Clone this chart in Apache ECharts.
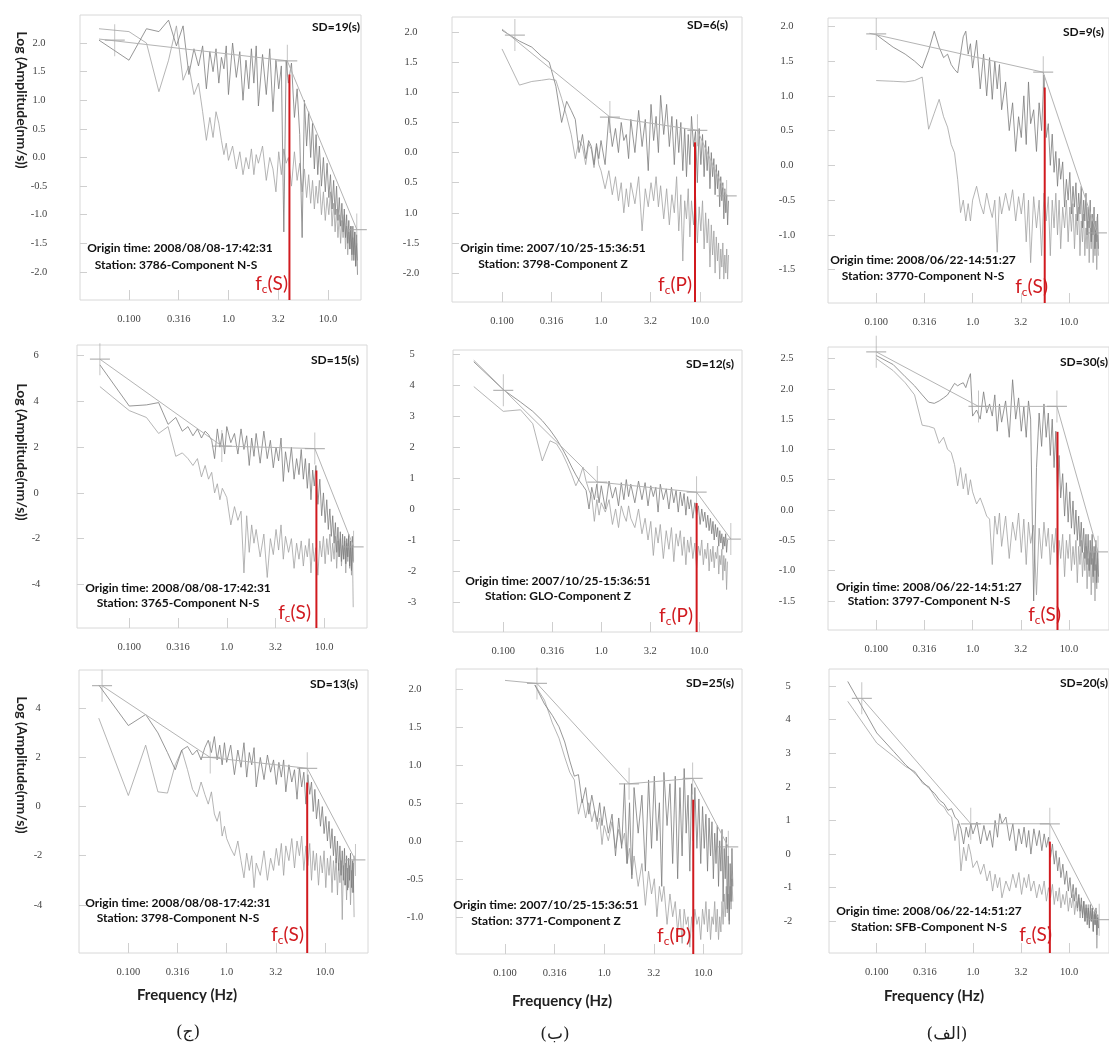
<!DOCTYPE html>
<html>
<head>
<meta charset="utf-8">
<script src="https://cdn.jsdelivr.net/npm/echarts@6/dist/echarts.min.js"></script>
<style>
  html, body { margin: 0; padding: 0; background: #fff; }
  #chart { width: 1109px; height: 1047px; }
</style>
</head>
<body>
<div id="chart"></div>
<script>
// frequency grid (Hz) shared by all spectra
var freq = [0.05, 0.1, 0.15, 0.2, 0.25, 0.3, 0.35, 0.4, 0.45, 0.5,
    0.55, 0.6, 0.65, 0.7, 0.75, 0.8, 0.85, 0.9, 0.95, 1.0,
    1.1, 1.2, 1.3, 1.4, 1.5, 1.6, 1.7, 1.8, 1.9, 2.0,
    2.2, 2.4, 2.6, 2.8, 3.0, 3.2, 3.4, 3.6, 3.8, 4.0,
    4.3, 4.6, 4.9, 5.2, 5.5, 5.8, 6.1, 6.4, 6.7, 7.0,
    7.3, 7.6, 7.9, 8.2, 8.6, 9.0, 9.4, 9.8, 10.2, 10.6,
    11.0, 11.4, 11.8, 12.2, 12.6, 13.0, 13.4, 13.8, 14.2, 14.6,
    15.0, 15.4, 15.8, 16.2, 16.6, 17.0, 17.4, 17.8, 18.2, 18.6,
    19.0, 19.4, 19.8, 20.2];

var xTickVals = [-1, -0.5, 0, 0.5, 1];
var xTickLabels = ['0.100', '0.316', '1.0', '3.2', '10.0'];

var sdTexts = ['SD=19(s)', 'SD=6(s)', 'SD=9(s)', 'SD=15(s)', 'SD=12(s)', 'SD=30(s)', 'SD=13(s)', 'SD=25(s)', 'SD=20(s)'];
var originTexts = ['Origin time: 2008/08/08-17:42:31', 'Origin time: 2007/10/25-15:36:51', 'Origin time: 2008/06/22-14:51:27',
    'Origin time: 2008/08/08-17:42:31', 'Origin time: 2007/10/25-15:36:51', 'Origin time: 2008/06/22-14:51:27',
    'Origin time: 2008/08/08-17:42:31', 'Origin time: 2007/10/25-15:36:51', 'Origin time: 2008/06/22-14:51:27'];
var stationTexts = ['Station: 3786-Component N-S', 'Station: 3798-Component Z', 'Station: 3770-Component N-S',
    'Station: 3765-Component N-S', 'Station: GLO-Component Z', 'Station: 3797-Component N-S',
    'Station: 3798-Component N-S', 'Station: 3771-Component Z', 'Station: SFB-Component N-S'];
var phases = ['S', 'P', 'S', 'S', 'P', 'S', 'S', 'P', 'S'];
var captions = ['(ج)', '(ب)', '(الف)'];

// ---- row 1, col 1 ----
var sig_r1c1 = [2.05, 1.7, 2.25, 2.2, 2.4, 1.95, 2.3, 1.45, 1.9, 1.6,
    1.95, 1.2, 1.85, 1.5, 1.9, 1.3, 1.75, 1.55, 1.95, 1.1,
    2.0, 1.4, 1.85, 1.0, 1.7, 1.2, 1.9, 1.3, 1.95, 0.9,
    1.8, 1.1, 1.9, 0.8, 1.7, 1.2, 1.6, -1.3, 1.7, 1.3,
    1.65, 0.7, 1.2, 0.4, -1.4, 1.0, 0.2, 0.8, 0.0, 0.6,
    -0.2, 0.4, -0.3, 0.2, -0.5, 0.0, -0.6, -0.1, -0.7, -0.3,
    -0.9, -0.4, -1.0, -0.5, -1.1, -0.7, -1.2, -0.8, -1.3, -0.9,
    -1.4, -1.0, -1.5, -1.1, -1.6, -1.2, -1.7, -1.2, -1.8, -1.3,
    -1.9, -1.35, -2.05, null];
var noise_r1c1 = [2.25, 2.2, 2.0, 1.15, 1.7, 2.3, 1.35, 1.6, 1.1, 1.3,
    0.8, 0.3, 0.7, 0.35, 0.8, 0.6, 0.3, 0.05, 0.25, -0.05,
    0.2, -0.2, 0.1, -0.3, 0.0, -0.2, 0.15, -0.3, 0.05, -0.1,
    0.2, -0.4, 0.0, -0.2, -0.6, 0.1, -0.3, 0.15, -0.1, 0.0,
    -0.5, 0.1, -0.4, -0.1, -0.6, -0.2, -0.7, -0.3, -0.8, -0.4,
    -0.9, -0.5, -0.8, -0.4, -1.0, -0.6, -1.1, -0.7, -1.0, -0.6,
    -1.2, -0.8, -1.3, -0.9, -1.4, -1.0, -1.5, -1.1, -1.4, -1.0,
    -1.6, -1.2, -1.7, -1.3, -1.6, -1.2, -1.8, -1.4, -1.7, -1.3,
    -1.9, -1.5, -1.8, null];
var fit_r1c1 = [[0.05, 2.07], [3.9, 1.69], [19.5, -1.26]];
var cross_r1c1 = [[0.072, 2.05], [3.9, 1.69], [19.5, -1.26]];
var fc_r1c1 = [4.1, 1.45];
var yTicks_r1c1 = [2, 1.5, 1, 0.5, 0, -0.5, -1, -1.5, -2];
var yLabels_r1c1 = ['2.0', '1.5', '1.0', '0.5', '0.0', '-0.5', '-1.0', '-1.5', '-2.0'];

// ---- row 1, col 2 ----
var sig_r1c2 = [null, 2.03, 1.85, 1.75, 1.6, 1.5, 1.1, 0.5, 0.85, 0.7,
    0.55, 0.0, 0.3, -0.1, 0.2, 0.1, -0.2, 0.15, -0.1, 0.2,
    -0.2, 0.6, 0.1, 0.4, 0.0, 0.5, 0.2, 0.3, -0.1, 0.55,
    0.0, 0.7, 0.1, 0.55, -0.3, 0.8, 0.2, 0.6, 0.0, 0.95,
    0.3, 0.8, 0.1, 0.6, -0.2, 0.55, 0.0, 0.5, -0.3, 0.4,
    -0.4, 0.3, -0.2, 0.6, 0.1, 0.35, -0.5, 0.4, -0.2, 0.3,
    -0.4, 0.2, -0.3, 0.1, -0.6, 0.0, -0.4, -0.1, -0.7, -0.2,
    -0.6, -0.3, -0.9, -0.4, -0.8, -0.5, -1.1, -0.6, -1.0, -0.7,
    -1.2, -0.8, null, null];
var noise_r1c2 = [null, 1.72, 1.12, 1.18, 1.2, 1.22, 1.2, 0.9, 0.6, 0.3,
    -0.1, 0.2, 0.1, -0.2, 0.15, 0.05, -0.25, 0.1, -0.2, -0.3,
    -0.6, -0.3, -0.7, -0.4, -0.8, -0.5, -1.0, -0.6, -0.9, -0.5,
    -0.85, -0.4, -1.3, -0.6, -0.9, -0.5, -0.8, -0.4, -0.9, -0.55,
    -1.1, -0.6, -1.2, -0.7, -1.0, -0.4, -1.3, -0.7, -1.8, -0.8,
    -1.1, -0.6, -1.4, -0.8, -1.2, -0.7, -1.5, -0.9, -1.3, -0.8,
    -1.6, -1.0, -1.5, -1.1, -1.9, -1.2, -1.7, -1.3, -2.0, -1.4,
    -1.8, -1.5, -2.1, -1.6, -1.9, -1.5, -2.1, -1.7, -2.0, -1.6,
    -2.1, -1.7, null, null];
var fit_r1c2 = [[0.1, 2.05], [1.23, 0.59], [9.4, 0.37], [18.6, -0.72]];
var cross_r1c2 = [[0.135, 1.95], [1.23, 0.59], [9.4, 0.37], [18.6, -0.72]];
var fc_r1c2 = [8.9, 0.17];
var yTicks_r1c2 = [2, 1.5, 1, 0.5, 0, -0.5, -1, -1.5, -2];
var yLabels_r1c2 = ['2.0', '1.5', '1.0', '0.5', '0.0', '0.5', '1.0', '-1.5', '-2.0'];

// ---- row 1, col 3 ----
var sig_r1c3 = [null, 1.88, 1.7, 1.6, 1.5, 1.4, 1.65, 1.93, 1.7, 1.55,
    1.6, 1.45, 1.38, 1.33, 1.6, 1.85, 1.93, 1.6, 1.75, 1.4,
    1.8, 1.1, 1.6, 1.0, 1.55, 0.95, 1.5, 1.1, 1.45, 0.8,
    1.2, 0.5, 0.9, 0.2, 0.7, 0.4, 1.0, 0.3, 1.2, 0.6,
    0.8, 0.2, 0.9, 0.5, 1.3, 0.4, 0.6, 0.0, 0.45, -0.1,
    0.2, -0.3, 0.1, -0.2, 0.05, -0.6, -0.2, -0.5, -0.1, -0.7,
    -0.3, -0.6, -0.25, -0.8, -0.4, -0.7, -0.3, -0.9, -0.5, -0.8,
    -0.4, -1.0, -0.6, -0.9, -0.5, -1.1, -0.7, -1.0, -0.6, -1.2,
    -0.8, -1.1, -0.7, -1.2];
var noise_r1c3 = [null, 1.22, 1.21, 1.2, 1.22, 1.27, 0.52, 0.75, 0.95, 0.7,
    0.55, 0.3, 0.18, -0.2, -0.68, -0.5, -0.8, -0.55, -0.8, -0.5,
    -0.3, -0.55, -0.7, -0.4, -0.6, -0.75, -0.5, -1.25, -0.45, -0.7,
    -0.4, -0.65, -0.35, -0.8, -0.45, -0.7, -0.4, -1.1, -0.5, -1.4,
    -0.45, -0.9, -0.5, -1.3, -0.4, -0.8, -0.45, -1.3, -0.5, -0.9,
    -0.4, -1.0, -0.5, -1.2, -0.6, -0.9, -0.5, -1.1, -0.6, -0.95,
    -0.55, -1.2, -0.7, -1.0, -0.6, -1.3, -0.8, -1.1, -0.7, -1.3,
    -0.9, -1.2, -0.8, -1.4, -0.9, -1.2, -0.8, -1.4, -1.0, -1.3,
    -0.9, -1.5, -1.0, -1.3];
var fit_r1c3 = [[0.085, 1.9], [5.4, 1.34], [19.5, -0.97]];
var cross_r1c3 = [[0.1, 1.89], [5.4, 1.34], [19.5, -0.97]];
var fc_r1c3 = [5.6, 1.12];
var yTicks_r1c3 = [2, 1.5, 1, 0.5, 0, -0.5, -1, -1.5];
var yLabels_r1c3 = ['2.0', '1.5', '1.0', '0.5', '0.0', '-0.5', '-1.0', '-1.5'];

// ---- row 2, col 1 ----
var sig_r2c1 = [5.6, 3.8, 3.85, 3.95, 3.0, 3.3, 2.7, 2.9, 2.5, 2.8,
    2.4, 2.7, 2.55, 2.3, 1.5, 2.8, 2.0, 2.6, 1.7, 2.9,
    2.2, 2.6, 1.7, 2.8, 1.9, 2.5, 1.2, 2.4, 1.6, 2.6,
    1.3, 2.7, 1.5, 2.3, 1.1, 2.0, 1.4, 2.4, 0.5, 1.8,
    0.9, 2.0, 0.6, 1.5, 0.8, 1.9, 0.6, 1.5, 0.2, 1.3,
    -0.3, 1.0, 0.3, 1.2, -0.5, 0.6, -1.0, 0.0, -1.3, -0.3,
    -1.6, -0.7, -1.9, -1.0, -2.2, -1.3, -2.6, -1.5, -2.8, -1.7,
    -3.0, -1.8, -2.9, -1.9, -3.1, -2.0, -2.8, -1.8, -3.2, -2.1,
    -3.4, -1.9, -3.0, null];
var noise_r2c1 = [4.65, 3.6, 3.3, 2.6, 2.9, 1.6, 1.75, 1.5, 1.2, 1.5,
    0.7, 1.2, 0.6, 0.9, 0.0, 0.4, -0.3, 0.2, 0.0, -0.2,
    -1.4, -0.6, -1.2, -0.8, -3.5, -1.0, -2.6, -1.4, -2.2, -1.6,
    -2.8, -1.8, -3.7, -2.0, -2.7, -1.6, -2.5, -1.4, -2.9, -1.9,
    -2.6, -2.0, -3.3, -2.2, -2.9, -2.1, -3.2, -2.3, -2.8, -2.0,
    -3.5, -2.2, -3.0, -2.4, -3.6, -2.1, -2.8, -1.9, -3.1, -2.0,
    -2.7, -1.8, -3.0, -2.2, -2.9, -1.9, -3.3, -2.1, -2.8, -2.0,
    -3.2, -2.3, -2.9, -2.1, -3.5, -2.2, -3.0, -1.9, -3.3, -2.4,
    -3.6, -2.2, -5.0, null];
var fit_r2c1 = [[0.05, 5.85], [0.89, 2.05], [8.0, 1.94], [20.0, -2.36]];
var cross_r2c1 = [[0.05, 5.85], [0.89, 2.05], [8.0, 1.94], [20.0, -2.36]];
var fc_r2c1 = [8.3, 0.98];
var yTicks_r2c1 = [6, 4, 2, 0, -2, -4];
var yLabels_r2c1 = ['6', '4', '2', '0', '-2', '-4'];

// ---- row 2, col 2 ----
var sig_r2c2 = [4.75, 3.85, 3.45, 3.15, 2.85, 2.55, 2.25, 1.95, 1.65, 1.35,
    1.1, 0.9, 0.75, 0.6, 0.0, 0.7, 0.3, 0.8, 0.2, 0.75,
    0.0, 0.9, 0.35, 0.7, 0.1, 0.85, 0.3, 0.95, 0.4, 0.8,
    0.2, 0.9, 0.3, 0.85, 0.1, 0.75, 0.4, 0.7, -0.1, 0.8,
    0.3, 0.65, 0.0, 0.7, 0.2, 0.6, -0.1, 0.55, 0.1, 0.5,
    -0.2, 0.4, 0.0, 0.3, -0.3, 0.2, -0.2, 0.1, -0.5, 0.0,
    -0.4, -0.1, -0.6, -0.2, -0.7, -0.3, -0.8, -0.4, -1.0, -0.5,
    -0.9, -0.6, -1.2, -0.7, -1.1, -0.8, -1.3, -0.9, -1.2, -0.8,
    -1.4, -1.0, null, null];
var noise_r2c2 = [3.95, 3.15, 3.2, 2.75, 1.55, 2.2, 2.1, 1.8, 1.45, 1.1,
    0.75, 1.0, 1.35, 0.9, 0.6, 0.4, -0.4, 0.3, -0.2, 0.2,
    -0.1, 0.3, -0.5, 0.0, -0.6, 0.1, -0.2, -0.4, 0.1, -0.3,
    -0.6, 0.0, -0.8, -0.3, -1.0, -0.4, -1.5, -0.6, -1.1, -0.5,
    -1.6, -0.7, -1.3, -0.6, -1.7, -0.8, -1.2, -0.7, -1.5, -0.9,
    -1.8, -1.0, -1.4, -0.9, -1.6, -1.1, -1.9, -1.2, -1.5, -1.0,
    -1.8, -1.3, -1.6, -1.1, -2.0, -1.3, -1.7, -1.2, -1.9, -1.4,
    -1.6, -1.2, -2.1, -1.5, -1.8, -1.3, -2.3, -1.5, -2.0, -1.6,
    -2.6, -1.7, null, null];
var fit_r2c2 = [[0.05, 4.8], [0.91, 0.87], [9.4, 0.54], [21, -0.97]];
var cross_r2c2 = [[0.1, 3.83], [0.91, 0.87], [9.4, 0.54], [21, -0.97]];
var fc_r2c2 = [9.4, 0.19];
var yTicks_r2c2 = [5, 4, 3, 2, 1, 0, -1, -2, -3];
var yLabels_r2c2 = ['5', '4', '3', '2', '1', '0', '-1', '-2', '-3'];

// ---- row 2, col 3 ----
var sig_r2c3 = [null, 2.55, 2.4, 2.2, 2.05, 1.9, 1.78, 1.76, 1.8, 1.85,
    1.9, 2.0, 2.09, 2.05, 2.08, 2.1, 2.02, 2.15, 2.25, 1.55,
    1.65, 1.5, 1.95, 1.6, 1.75, 1.55, 1.9, 1.3, 1.75, 1.45,
    1.8, 1.2, 2.15, 1.5, 1.85, 1.3, 1.7, 1.2, 1.8, 1.5,
    -1.5, 0.7, 1.6, 1.05, 1.75, 1.2, 1.6, 0.9, 1.5, 0.7,
    1.3, 0.3, 0.9, 0.2, 0.6, -0.1, 0.45, -0.2, 0.3, -0.3,
    0.15, -0.4, 0.0, -0.5, -0.1, -0.6, -0.2, -0.7, -0.3, -0.8,
    -0.4, -0.9, -0.4, -1.0, -0.5, -0.9, -0.4, -1.1, -0.6, -1.0,
    -0.5, -1.2, -0.7, -1.1];
var noise_r2c3 = [null, 2.5, 2.3, 2.1, 1.9, 1.4, 1.38, 1.35, 1.1, 1.2,
    1.0, 0.95, 0.75, 0.4, 0.7, 0.35, 0.6, 0.25, 0.5, 0.3,
    0.1, 0.2, 0.05, -0.1, -0.15, -0.9, -0.1, -0.4, -0.05, -0.6,
    -0.1, -0.8, -0.2, -0.5, -0.05, -0.7, -0.15, -0.9, -0.2, -0.55,
    -0.25, -1.4, -0.3, -0.8, -0.2, -0.6, -0.3, -0.9, -0.4, -0.7,
    -0.3, -1.0, -0.5, -0.8, -0.4, -1.1, -0.5, -0.8, -0.4, -1.0,
    -0.6, -0.9, -0.5, -1.2, -0.6, -0.9, -0.5, -1.1, -0.7, -1.0,
    -0.6, -1.3, -0.8, -1.1, -0.7, -1.4, -0.8, -1.2, -0.7, -1.5,
    -0.9, -1.3, -0.8, -1.2];
var fit_r2c3 = [[0.1, 2.61], [1.15, 1.71], [7.5, 1.71], [20, -0.69]];
var cross_r2c3 = [[0.1, 2.61], [1.15, 1.71], [7.5, 1.71], [20, -0.69]];
var fc_r2c3 = [7.6, 1.29];
var yTicks_r2c3 = [2.5, 2, 1.5, 1, 0.5, 0, -0.5, -1, -1.5];
var yLabels_r2c3 = ['2.5', '2.0', '1.5', '1.0', '0.5', '0.0', '-0.5', '-1.0', '-1.5'];

// ---- row 3, col 1 ----
var sig_r3c1 = [4.95, 3.3, 3.75, 3.0, 2.2, 1.5, 2.3, 2.45, 2.1, 2.3,
    1.9, 2.4, 2.7, 2.2, 2.85, 1.9, 2.5, 1.7, 2.6, 1.8,
    2.5, 1.3, 2.3, 1.6, 2.6, 1.2, 2.2, 1.7, 2.4, 0.8,
    2.0, 1.1, 2.1, 1.4, 1.9, 0.9, 1.8, 1.2, 1.9, 0.6,
    1.7, 1.0, 1.5, 0.3, 1.6, 0.8, 1.4, 0.1, 1.3, 0.5,
    1.0, -0.2, 0.7, -0.5, 0.3, -0.8, 0.0, -1.1, -0.4, -1.4,
    -0.6, -1.7, -0.9, -2.0, -1.2, -2.3, -1.4, -2.6, -1.6, -2.8,
    -1.8, -3.0, -1.7, -3.2, -2.0, -3.4, -2.1, -3.0, -1.9, -3.3,
    -2.2, -3.5, -2.0, null];
var noise_r3c1 = [3.6, 0.45, 2.5, 0.6, 0.55, 1.7, 2.3, 1.5, 0.7, 0.4,
    1.0, 0.5, 0.1, 0.6, -0.3, -0.6, -0.2, -1.2, -0.8, -1.3,
    -1.7, -2.0, -1.4, -2.2, -2.9, -1.9, -2.6, -2.0, -3.3, -2.3,
    -2.8, -1.8, -3.0, -2.1, -2.6, -1.7, -2.4, -1.5, -2.8, -1.6,
    -2.2, -1.3, -2.5, -1.4, -2.0, -1.2, -2.6, -1.6, -2.4, -1.5,
    -3.0, -1.8, -2.6, -1.9, -3.2, -2.0, -2.7, -1.8, -3.3, -2.1,
    -2.8, -2.0, -3.5, -2.2, -3.0, -2.1, -3.6, -2.3, -3.1, -2.2,
    -4.6, -2.4, -3.2, -2.3, -3.8, -2.5, -3.3, -2.4, -4.0, -2.6,
    -3.5, -2.3, -4.5, null];
var fit_r3c1 = [[0.054, 4.92], [0.68, 2.0], [6.6, 1.56], [20.4, -2.17]];
var cross_r3c1 = [[0.054, 4.92], [0.68, 2.0], [6.6, 1.56], [20.4, -2.17]];
var fc_r3c1 = [6.6, 0.98];
var yTicks_r3c1 = [4, 2, 0, -2, -4];
var yLabels_r3c1 = ['4', '2', '0', '-2', '-4'];

// ---- row 3, col 2 ----
var sig_r3c2 = [null, null, null, 2.05, 1.8, 1.65, 1.5, 1.3, 1.05, 0.85,
    0.87, 0.5, 0.7, 0.35, 0.6, 0.4, 0.25, 0.5, 0.2, 0.45,
    0.1, 0.35, -0.2, 0.3, -0.1, 0.75, -0.3, 0.5, -0.5, 0.7,
    0.1, 0.6, -0.4, 0.8, -0.1, 0.85, 0.0, 0.5, -0.6, 0.9,
    0.2, 0.75, -0.3, 0.85, -0.5, 0.7, -0.2, 0.95, 0.1, 0.6,
    -0.4, 0.75, 0.0, 0.7, -0.1, 0.55, -0.3, 0.45, -0.1, 0.35,
    -0.4, 0.3, -0.2, 0.25, -0.5, 0.1, -0.3, 0.2, -0.6, 0.0,
    -0.4, 0.15, -0.8, -0.1, -0.5, 0.05, -0.9, -0.2, -1.1, -0.3,
    -0.8, -0.1, -0.6, null];
var noise_r3c2 = [null, null, null, 2.05, 1.85, 1.55, 1.35, 1.1, 0.9, 0.8,
    0.35, 0.55, 0.3, 0.5, 0.25, 0.4, 0.15, 0.3, -0.05, 0.2,
    0.0, 0.25, -0.1, 0.15, -0.05, 0.1, -0.3, -0.1, -0.45, -0.2,
    -0.6, -0.3, -0.85, -0.4, -0.7, -0.5, -1.0, -0.6, -0.8, -0.6,
    -1.1, -0.7, -1.0, -0.8, -1.2, -0.9, -1.35, -0.9, -1.1, -1.0,
    -1.4, -1.0, -1.2, -0.9, -1.1, -1.0, -1.3, -0.9, -1.1, -0.8,
    -1.2, -0.9, -1.3, -1.0, -1.1, -0.8, -1.2, -0.9, -1.3, -1.0,
    -1.2, -0.8, -1.1, -0.7, -1.0, -0.6, -0.95, -0.7, -1.05, -0.6,
    -0.9, -0.5, -0.8, null];
var fit_r3c2 = [[0.1, 2.11], [0.21, 2.07], [1.78, 0.75], [7.8, 0.82], [17.8, -0.08]];
var cross_r3c2 = [[0.21, 2.07], [1.78, 0.75], [7.8, 0.82], [17.8, -0.08]];
var fc_r3c2 = [7.9, 0.54];
var yTicks_r3c2 = [2, 1.5, 1, 0.5, 0, -0.5, -1];
var yLabels_r3c2 = ['2.0', '1.5', '1.0', '0.5', '0.0', '-0.5', '-1.0'];

// ---- row 3, col 3 ----
var sig_r3c3 = [5.13, 3.6, 3.05, 2.65, 2.4, 2.15, 1.95, 1.8, 1.6, 1.5,
    1.3, 1.35, 1.1, 1.0, 0.75, 0.3, 0.8, 0.5, 0.9, 0.6,
    0.95, 0.3, 0.85, 0.4, 0.7, 0.2, 1.0, 0.5, 1.2, 0.9,
    1.1, 0.4, 0.9, 0.1, 0.75, 0.3, 0.8, 0.2, 0.7, 0.0,
    0.75, 0.25, 0.7, 0.1, 0.6, 0.2, 0.5, -0.1, 0.3, -0.3,
    0.1, -0.5, -0.1, -0.7, -0.3, -0.9, -0.5, -1.1, -0.7, -1.3,
    -0.9, -1.4, -1.0, -1.6, -1.2, -1.7, -1.3, -1.9, -1.4, -2.0,
    -1.5, -2.1, -1.6, -2.2, -1.5, -2.0, -1.6, -2.3, -1.7, -2.1,
    -1.6, -2.4, -1.8, -2.2];
var noise_r3c3 = [4.54, 3.3, 2.9, 2.6, 2.45, 2.1, 2.0, 1.7, 1.5, 1.4,
    1.2, 1.1, 0.4, 0.9, -0.5, 0.2, -0.2, 0.3, 0.0, -0.4,
    -0.2, -0.6, -0.3, -0.8, -0.5, -1.1, -0.6, -1.0, -0.7, -1.3,
    -0.8, -1.1, -0.6, -1.0, -0.55, -1.2, -0.7, -1.0, -0.6, -1.1,
    -0.8, -1.3, -0.9, -1.2, -0.8, -1.4, -1.0, -1.3, -0.9, -1.5,
    -1.1, -1.4, -1.0, -1.6, -1.2, -1.5, -1.1, -1.7, -1.3, -1.6,
    -1.2, -1.8, -1.4, -1.7, -1.3, -1.9, -1.5, -1.8, -1.4, -2.0,
    -1.6, -1.9, -1.5, -2.1, -1.7, -2.0, -1.6, -2.3, -1.8, -2.1,
    -1.7, -2.8, -1.9, -2.2];
var fit_r3c3 = [[0.07, 4.63], [0.95, 0.9], [6.3, 0.9], [20.5, -1.95]];
var cross_r3c3 = [[0.07, 4.63], [0.95, 0.9], [6.3, 0.9], [20.5, -1.95]];
var fc_r3c3 = [6.3, 0.37];
var yTicks_r3c3 = [5, 4, 3, 2, 1, 0, -1, -2];
var yLabels_r3c3 = ['5', '4', '3', '2', '1', '0', '-1', '-2'];

// panel layout: box = [left, top, right, bottom] in px, x range in log10(Hz)
var panels = [
    {sig: sig_r1c1, noise: noise_r1c1, fit: fit_r1c1, cross: cross_r1c1, fc: fc_r1c1, yt: yTicks_r1c1, yl: yLabels_r1c1,
        box: [80, 15, 361, 300], x: [-1.492, 1.332], y: [-2.49, 2.49], sd: [360, 27], org: [180, 248], sta: [176, 265], fcl: [288, 284]},
    {sig: sig_r1c2, noise: noise_r1c2, fit: fit_r1c2, cross: cross_r1c2, fc: fc_r1c2, yt: yTicks_r1c2, yl: yLabels_r1c2,
        box: [452, 17, 742, 302], x: [-1.505, 1.424], y: [-2.48, 2.25], sd: [728, 25], org: [553, 248], sta: [553, 264], fcl: [692, 285]},
    {sig: sig_r1c3, noise: noise_r1c3, fit: fit_r1c3, cross: cross_r1c3, fc: fc_r1c3, yt: yTicks_r1c3, yl: yLabels_r1c3,
        box: [828, 18, 1118, 303], x: [-1.5, 1.415], y: [-1.98, 2.12], sd: [1104, 32], org: [923, 260], sta: [923, 276], fcl: [1048, 287]},
    {sig: sig_r2c1, noise: noise_r2c1, fit: fit_r2c1, cross: cross_r2c1, fc: fc_r2c1, yt: yTicks_r2c1, yl: yLabels_r2c1,
        box: [77, 345, 367, 628], x: [-1.536, 1.438], y: [-5.91, 6.47], sd: [359, 360], org: [178, 588], sta: [178, 603], fcl: [311, 613]},
    {sig: sig_r2c2, noise: noise_r2c2, fit: fit_r2c2, cross: cross_r2c2, fc: fc_r2c2, yt: yTicks_r2c2, yl: yLabels_r2c2,
        box: [453, 350, 742, 632], x: [-1.513, 1.436], y: [-3.97, 5.13], sd: [734, 364], org: [558, 581], sta: [558, 596], fcl: [693, 616]},
    {sig: sig_r2c3, noise: noise_r2c3, fit: fit_r2c3, cross: cross_r2c3, fc: fc_r2c3, yt: yTicks_r2c3, yl: yLabels_r2c3,
        box: [828, 347, 1118, 630], x: [-1.5, 1.415], y: [-1.98, 2.69], sd: [1108, 362], org: [929, 587], sta: [929, 601], fcl: [1061, 615]},
    {sig: sig_r3c1, noise: noise_r3c1, fit: fit_r3c1, cross: cross_r3c1, fc: fc_r3c1, yt: yTicks_r3c1, yl: yLabels_r3c1,
        box: [79, 670, 368, 953], x: [-1.502, 1.438], y: [-5.96, 5.56], sd: [358, 684], org: [178, 903], sta: [178, 918], fcl: [304, 935]},
    {sig: sig_r3c2, noise: noise_r3c2, fit: fit_r3c2, cross: cross_r3c2, fc: fc_r3c2, yt: yTicks_r3c2, yl: yLabels_r3c2,
        box: [456, 669, 742, 954], x: [-1.494, 1.389], y: [-1.49, 2.26], sd: [734, 683], org: [546, 905], sta: [546, 921], fcl: [691, 936]},
    {sig: sig_r3c3, noise: noise_r3c3, fit: fit_r3c3, cross: cross_r3c3, fc: fc_r3c3, yt: yTicks_r3c3, yl: yLabels_r3c3,
        box: [829, 669, 1118, 953], x: [-1.496, 1.414], y: [-2.94, 5.5], sd: [1108, 683], org: [929, 911], sta: [929, 927], fcl: [1052, 935]}
];

function curve(vals) {
    var out = [];
    for (var i = 0; i < freq.length; i++) {
        if (vals[i] !== null) out.push([Math.log10(freq[i]), vals[i]]);
    }
    return out;
}
function pairs(arr) {
    return arr.map(function (p) { return [Math.log10(p[0]), p[1]]; });
}
function labelFor(vals, labels) {
    return function (v) {
        for (var k = 0; k < vals.length; k++) {
            if (Math.abs(vals[k] - v) < 1e-6) return labels[k];
        }
        return '';
    };
}

var chart = echarts.init(document.getElementById('chart'));
var grids = [], xAxes = [], yAxes = [], series = [], graphic = [];
var plusPath = 'path://M10,0L10,20M0,10L20,10';
var tickFont = {fontFamily: 'Liberation Serif', fontSize: 10.5, color: '#444'};

panels.forEach(function (p, i) {
    grids.push({
        left: p.box[0], top: p.box[1], width: p.box[2] - p.box[0], height: p.box[3] - p.box[1],
        show: true, borderColor: '#d8d8d8', borderWidth: 1, containLabel: false
    });
    xAxes.push({
        type: 'value', gridIndex: i, min: p.x[0], max: p.x[1], position: 'bottom',
        axisLine: {show: false, onZero: false}, splitLine: {show: false},
        axisTick: {show: true, inside: true, length: 10, customValues: xTickVals, lineStyle: {color: '#cfcfcf'}},
        axisLabel: Object.assign({margin: 14, customValues: xTickVals, formatter: labelFor(xTickVals, xTickLabels)}, tickFont)
    });
    yAxes.push({
        type: 'value', gridIndex: i, min: p.y[0], max: p.y[1], position: 'left',
        axisLine: {show: false, onZero: false}, splitLine: {show: false},
        axisTick: {show: true, inside: true, length: 7, customValues: p.yt, lineStyle: {color: '#cfcfcf'}},
        axisLabel: Object.assign({margin: 41, align: 'center', customValues: p.yt, formatter: labelFor(p.yt, p.yl)}, tickFont)
    });

    series.push({
        type: 'line', xAxisIndex: i, yAxisIndex: i, data: curve(p.noise), symbol: 'none', silent: true,
        lineStyle: {color: '#a2a2a2', width: 0.8}, z: 2
    });
    series.push({
        type: 'line', xAxisIndex: i, yAxisIndex: i, data: curve(p.sig), symbol: 'none', silent: true,
        lineStyle: {color: '#7c7c7c', width: 0.8}, z: 3
    });
    series.push({
        type: 'line', xAxisIndex: i, yAxisIndex: i, data: pairs(p.fit), symbol: 'none', silent: true,
        lineStyle: {color: '#b4b4b4', width: 1}, z: 4
    });
    series.push({
        type: 'scatter', xAxisIndex: i, yAxisIndex: i, data: pairs(p.cross), symbol: plusPath,
        symbolSize: [20, 32], silent: true, clip: false,
        itemStyle: {color: 'none', borderColor: '#a4a4a4', borderWidth: 1}, z: 4
    });
    series.push({
        type: 'line', xAxisIndex: i, yAxisIndex: i, symbol: 'none', silent: true,
        data: [[Math.log10(p.fc[0]), p.y[0]], [Math.log10(p.fc[0]), p.fc[1]]],
        lineStyle: {color: '#d11a1f', width: 2}, z: 6
    });

    graphic.push({type: 'text', x: p.sd[0], y: p.sd[1], z: 10, style: {
        text: sdTexts[i], font: 'bold 12px Lato', fill: '#111', align: 'right', verticalAlign: 'middle',
        textAlign: 'right', textVerticalAlign: 'middle'}});
    graphic.push({type: 'text', x: p.org[0], y: p.org[1], z: 10, style: {
        text: originTexts[i], font: 'bold 12px Lato', fill: '#111', align: 'center', verticalAlign: 'middle',
        textAlign: 'center', textVerticalAlign: 'middle'}});
    graphic.push({type: 'text', x: p.sta[0], y: p.sta[1], z: 10, style: {
        text: stationTexts[i], font: 'bold 12px Lato', fill: '#111', align: 'center', verticalAlign: 'middle',
        textAlign: 'center', textVerticalAlign: 'middle'}});
    graphic.push({type: 'text', x: p.fcl[0], y: p.fcl[1], z: 10, style: {
        text: '{a|f}{b|c}{a|(' + phases[i] + ')}', fill: '#d11a1f', align: 'right', verticalAlign: 'middle',
        textAlign: 'right', textVerticalAlign: 'middle',
        rich: {
            a: {fontSize: 19, fontFamily: 'Lato', fill: '#d11a1f'},
            b: {fontSize: 12, fontFamily: 'Lato', fill: '#d11a1f', padding: [11, 0, 0, 0]}
        }}});
});

// axis titles and captions
[100, 452, 765].forEach(function (cy) {
    graphic.push({type: 'text', x: 22, y: cy, rotation: -Math.PI / 2, z: 10, style: {
        text: 'Log (Amplitude(nm/s))', font: 'bold 14px Lato', fill: '#222', align: 'center', verticalAlign: 'middle',
        textAlign: 'center', textVerticalAlign: 'middle'}});
});
[[187, 995], [562, 1001], [934, 996]].forEach(function (pos) {
    graphic.push({type: 'text', x: pos[0], y: pos[1], z: 10, style: {
        text: 'Frequency (Hz)', font: 'bold 15px Lato', fill: '#222', align: 'center', verticalAlign: 'middle',
        textAlign: 'center', textVerticalAlign: 'middle'}});
});
[[188, 1033], [555, 1035], [947, 1035]].forEach(function (pos, k) {
    graphic.push({type: 'text', x: pos[0], y: pos[1], z: 10, style: {
        text: captions[k], font: '17px "DejaVu Serif", "DejaVu Sans"', fill: '#222', align: 'center', verticalAlign: 'middle',
        textAlign: 'center', textVerticalAlign: 'middle'}});
});

chart.setOption({
    animation: false,
    backgroundColor: '#fff',
    grid: grids,
    xAxis: xAxes,
    yAxis: yAxes,
    series: series,
    graphic: graphic
});
</script>
</body>
</html>
